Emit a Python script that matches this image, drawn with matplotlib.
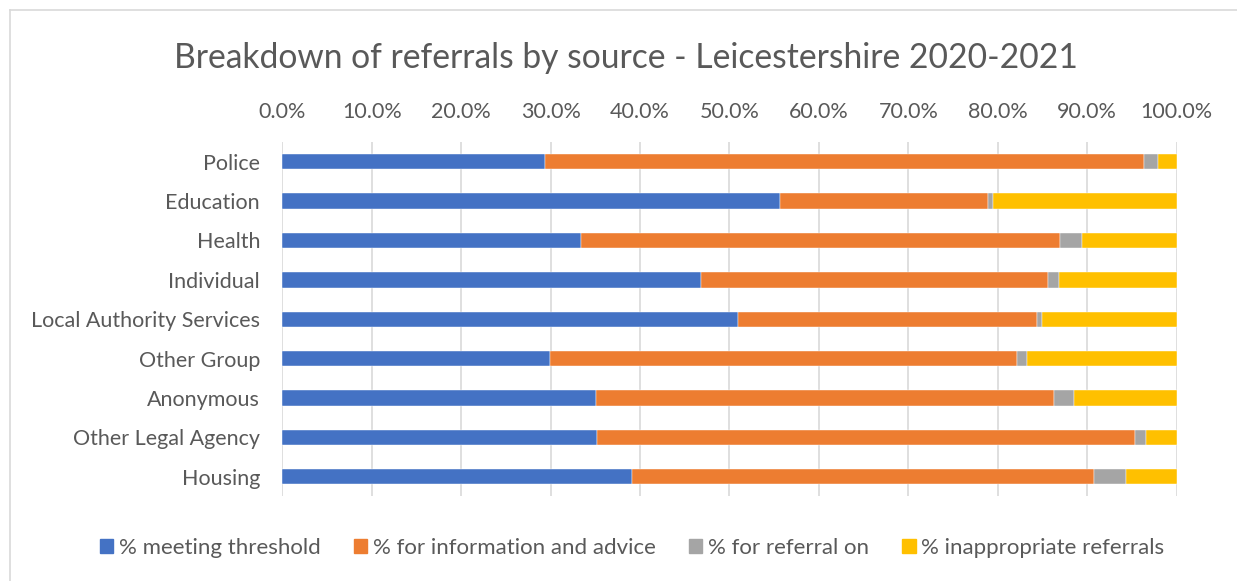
import numpy as np
import matplotlib
matplotlib.use("Agg")
import matplotlib.pyplot as plt
from matplotlib.lines import Line2D
from matplotlib.ticker import FuncFormatter

plt.rcParams['font.family'] = ['Lato', 'DejaVu Sans']

# Referral sources, top to bottom
sources = ["Police", "Education", "Health", "Individual", "Local Authority Services",
           "Other Group", "Anonymous", "Other Legal Agency", "Housing"]

# Share of each outcome per source (%)
meeting_threshold = [29.4, 55.6, 33.4, 46.8, 51.0, 29.9, 35.1, 35.2, 39.1]
info_and_advice = [67.0, 23.3, 53.6, 38.8, 33.4, 52.2, 51.2, 60.1, 51.7]
referral_on = [1.5, 0.6, 2.4, 1.2, 0.5, 1.2, 2.2, 1.3, 3.5]
inappropriate = [2.1, 20.5, 10.6, 13.2, 15.1, 16.7, 11.5, 3.4, 5.7]

series_names = ["% meeting threshold", "% for information and advice",
                "% for referral on", "% inappropriate referrals"]
series_colors = ["#4472C4", "#ED7D31", "#A5A5A5", "#FFC000"]

TEXT = "#595959"
GRID = "#D9D9D9"

fig = plt.figure(figsize=(12.37, 5.81), dpi=100)
ax = fig.add_axes([0.2282, 0.1456, 0.7230, 0.610])

y = np.arange(len(sources))
left = np.zeros(len(sources))
for vals, name, col in zip([meeting_threshold, info_and_advice, referral_on, inappropriate],
                           series_names, series_colors):
    vals = np.array(vals)
    ax.barh(y, vals / 100.0, left=left, height=0.39, color=col, label=name,
            edgecolor="white", linewidth=0.3, zorder=3)
    left += vals / 100.0

ax.set_xlim(0, 1.0)
ax.set_ylim(len(sources) - 0.5, -0.5)
ax.set_yticks(y)
ax.set_yticklabels(sources)
ax.set_xticks(np.linspace(0, 1, 11))
ax.xaxis.set_major_formatter(FuncFormatter(lambda v, _: f"{v * 100:.1f}%"))
ax.xaxis.tick_top()
ax.tick_params(axis="both", length=0, labelsize=15.5, colors=TEXT)
ax.tick_params(axis="x", pad=14.5)
ax.tick_params(axis="y", pad=16)
ax.grid(axis="x", color=GRID, linewidth=1.2, zorder=0)
for s in ax.spines.values():
    s.set_visible(False)

fig.text(0.506, 0.900, "Breakdown of referrals by source - Leicestershire 2020-2021",
         ha="center", va="center", fontsize=24.2, color=TEXT)

handles = [plt.Rectangle((0, 0), 1, 1, color=c) for c in series_colors]
fig.legend(handles, series_names, loc="center", bbox_to_anchor=(0.511, 0.057),
           ncol=4, frameon=False, fontsize=16, labelcolor=TEXT,
           handlelength=0.6, handleheight=0.6, handletextpad=0.25, columnspacing=1.5)

# chart frame (top and left edges)
fig.add_artist(Line2D([10 / 1237, 1.0], [1 - 10 / 581] * 2, color=GRID, linewidth=1.2))
fig.add_artist(Line2D([10 / 1237] * 2, [0.0, 1 - 10 / 581], color=GRID, linewidth=1.2))

fig.savefig("out.png", dpi=100, facecolor="white")
